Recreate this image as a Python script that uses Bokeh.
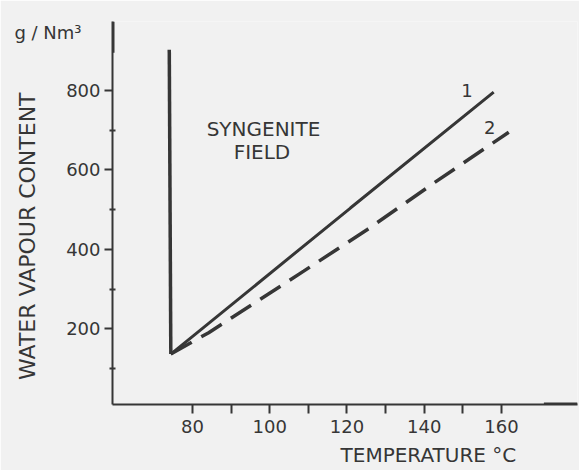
from bokeh.plotting import figure
from bokeh.models import FixedTicker, Label, Arrow, Range1d
from bokeh.embed import file_html
from bokeh.resources import INLINE

# ---- data ----
boundary_x = [74.0, 74.4]
boundary_y = [903, 136]
curve1_x = [74.4, 120.9, 158.0]
curve1_y = [136, 504, 796]
curve2_x = [74.4, 84.2, 108.8, 125.3, 142.5, 161.9]
curve2_y = [136, 190, 345, 450, 567, 695]
x_major = [80, 100, 120, 140, 160]
x_minor = [90, 110, 130, 150]
y_major = [200, 400, 600, 800]
y_minor = [100, 300, 500, 700]

INK = "#363636"
BG = "#f1f1f1"
FONT = "DejaVu Sans"

X0, X1 = 59.3, 179.7
Y0, Y1 = 9, 974

p = figure(width=579, height=470, output_backend="svg", toolbar_location=None,
           x_range=Range1d(X0, X1), y_range=Range1d(Y0, Y1),
           min_border_left=112, min_border_right=2, min_border_top=20,
           min_border_bottom=66)
p.background_fill_color = BG
p.border_fill_color = BG
p.outline_line_color = None
p.grid.visible = False

xa = p.xaxis[0]
xa.ticker = FixedTicker(ticks=x_major, minor_ticks=x_minor)
xa.axis_line_width = 2
xa.axis_line_color = INK
xa.major_tick_line_color = INK
xa.major_tick_line_width = 2
xa.major_tick_out = 9
xa.major_tick_in = 0
xa.minor_tick_line_color = INK
xa.minor_tick_line_width = 2
xa.minor_tick_out = 9
xa.minor_tick_in = 0
xa.major_label_text_font = FONT
xa.major_label_text_font_size = "18px"
xa.major_label_text_color = INK
xa.major_label_standoff = 6

ya = p.yaxis[0]
ya.ticker = FixedTicker(ticks=y_major, minor_ticks=y_minor)
ya.axis_line_width = 2
ya.axis_line_color = INK
ya.major_tick_line_color = INK
ya.major_tick_line_width = 2
ya.major_tick_out = 8
ya.major_tick_in = 0
ya.minor_tick_line_color = INK
ya.minor_tick_line_width = 2
ya.minor_tick_out = 3
ya.minor_tick_in = 3
ya.major_label_text_font = FONT
ya.major_label_text_font_size = "18px"
ya.major_label_text_color = INK
ya.major_label_standoff = 4

# axis arrow tips
p.add_layout(Arrow(end=None, x_start=171.0, y_start=Y0, x_end=X1, y_end=Y0,
                   line_width=4, line_color=INK))
p.add_layout(Arrow(end=None, x_start=X0, y_start=895, x_end=X0, y_end=Y1,
                   line_width=4, line_color=INK))

# curves
p.line(boundary_x, boundary_y, line_width=3.5, line_color=INK)
p.line(curve1_x, curve1_y, line_width=3, line_color=INK)
p.line(curve2_x, curve2_y, line_width=3.5, line_color=INK, line_dash="24 11")

def lab(x, y, t, size, angle=0, place="center"):
    l = Label(x=x, y=y, text=t, text_font=FONT, text_font_size=size,
              text_color=INK, text_align="center", text_baseline="middle",
              angle=angle)
    p.add_layout(l, place)

lab(98.4, 702, "SYNGENITE", "20px")
lab(98.0, 644, "FIELD", "20px")
lab(151.1, 799, "1", "18px")
lab(157.0, 707, "2", "18px")
lab(42.6, 946, "g / Nm³", "18px", place="above")
lab(141.1, -119, "TEMPERATURE °C", "20px", place="below")
lab(37.3, 433, "WATER VAPOUR CONTENT", "22px", angle=1.5708, place="left")

open("out.html", "w").write(file_html(p, INLINE))
